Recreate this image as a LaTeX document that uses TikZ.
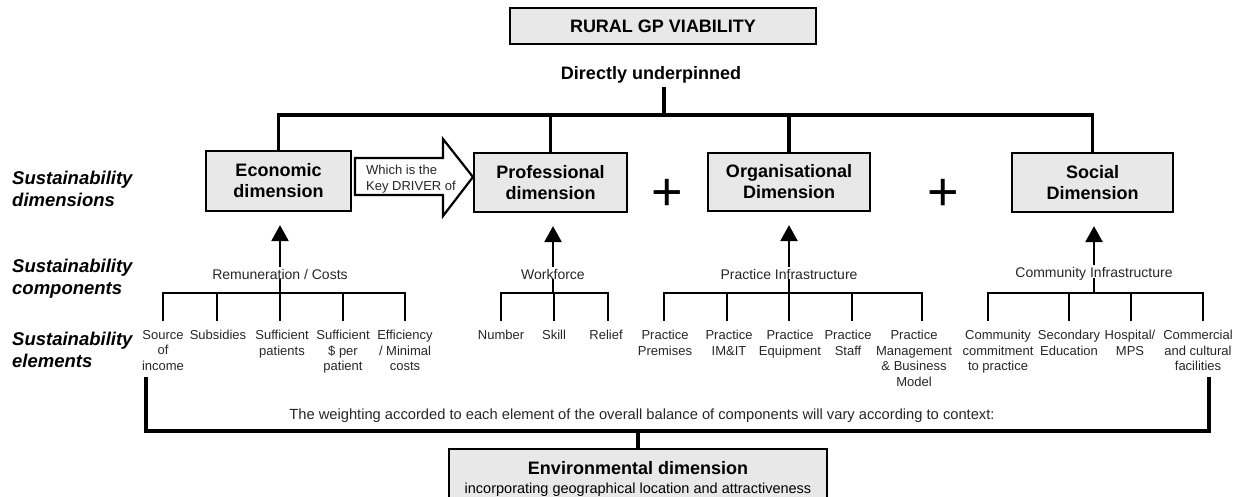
\documentclass[tikz,border=0pt]{standalone}
\usepackage{fontspec}
\setmainfont{Liberation Sans}
\usetikzlibrary{arrows.meta}
\usetikzlibrary{positioning}
\definecolor{boxgray}{HTML}{E8E8E8}
\definecolor{inkgray}{HTML}{262626}
\newcommand{\bigfont}{\fontsize{18}{21}\selectfont\bfseries}
\newcommand{\smallfont}{\fontsize{13}{15.5}\selectfont}
\newcommand{\compfont}{\fontsize{14}{16}\selectfont}
\tikzset{dimbox/.style={draw,line width=2.2pt,fill=boxgray,align=center,font=\bigfont,inner sep=0pt}}
\tikzset{tree/.style={line width=3.2pt}}
\tikzset{twig/.style={line width=2pt}}
\tikzset{comp/.style={font=\compfont,text=inkgray,inner sep=2pt}}
\tikzset{elem/.style={font=\smallfont,text=inkgray,align=center,anchor=north,inner sep=0pt}}
\tikzset{sidelabel/.style={font=\fontsize{18.5}{22}\selectfont\bfseries\itshape,align=left,anchor=west,inner sep=0pt}}
\tikzset{upto/.style={->,line width=2.4pt,shorten >=13pt}}

\begin{document}
\begin{tikzpicture}[x=1pt, y=-1pt, >={Triangle[width=17pt,length=16pt]}, line join=miter]
\useasboundingbox (0,0) rectangle (1246,497);

\node [dimbox, minimum width=306pt, minimum height=36pt] (title) at (663,26) {RURAL GP VIABILITY};
\node [font=\bigfont] (under) at (651,75) {Directly underpinned};
\coordinate (hub) at (664,115);

\node [dimbox, minimum width=145pt, minimum height=60pt] (econ) at (278.5,181) {Economic\\dimension};
\node [dimbox, minimum width=153pt, minimum height=59pt] (prof) at (550.5,182.5) {Professional\\dimension};
\node [dimbox, minimum width=162pt, minimum height=58pt] (org) at (789,182) {Organisational\\Dimension};
\node [dimbox, minimum width=161pt, minimum height=59pt] (soc) at (1092.5,182.5) {Social\\Dimension};

\draw [tree] (under.south -| hub) -- (hub);
\foreach \b in {econ,prof,org,soc}
\draw [tree] (hub) -| (\b.north);

\foreach \x [count=\i] in {667,943}
\node [font=\fontsize{54}{54}\selectfont, anchor=base] (plus-\i) at (\x,210) {+};

% Key driver arrow
\draw [line width=2.2pt, fill=white] (355,158) -- (443,158) -- (443,139) -- (473,177)
  -- (443,216) -- (443,195) -- (355,195) -- cycle;
\node [font=\smallfont, text=inkgray, align=left, anchor=west, inner sep=0pt] (driver) at (366,179) {Which is the\\Key DRIVER of};

\node [sidelabel] (lab-dim) at (12,189) {Sustainability\\dimensions};
\node [sidelabel] (lab-comp) at (12,278.5) {Sustainability\\components};
\node [sidelabel] (lab-elem) at (12,349.5) {Sustainability\\elements};

\node [comp] (remun) at (280,274) {Remuneration / Costs};
\node [comp] (work) at (553,274) {Workforce};
\node [comp] (pract) at (789,274) {Practice Infrastructure};
\node [comp] (commu) at (1094,274) {Community Infrastructure};

\foreach \c/\b in {remun/econ, work/prof, pract/org, commu/soc} {
\draw [upto] (\c.north) -- (\c.north |- \b.south);
\coordinate (\c-bar) at (\c.base |- 0,293);
\draw [twig] (\c.base) -- (\c-bar);
}

\foreach \x/\t [count=\i] in {163/{Source\\of\\income}, 218/Subsidies, 282/{Sufficient\\patients},
  343/{Sufficient\\\$ per\\patient}, 405/{Efficiency\\/ Minimal\\costs}}
\node [elem] (ec-\i) at (\x,330) {\t};
\foreach \x/\t [count=\i] in {501/Number, 554/Skill, 606/Relief}
\node [elem] (wf-\i) at (\x,330) {\t};
\foreach \x/\t [count=\i] in {665/{Practice\\Premises}, 729/{Practice\\IM\&IT}, 790/{Practice\\Equipment},
  848/{Practice\\Staff}, 914/{Practice\\Management\\\& Business\\Model}}
\node [elem] (pi-\i) at (\x,330) {\t};
\foreach \x/\t [count=\i] in {998/{Community\\commitment\\to practice}, 1069/{Secondary\\Education},
  1130/{Hospital/\\MPS}, 1198/{Commercial\\and cultural\\facilities}}
\node [elem] (cc-\i) at (\x,330) {\t};

% Element branches
\foreach \i/\s in {1/0,2/-1,3/-2,4/0,5/0}
\draw [twig, shorten >=9pt] (remun-bar) -| ([xshift=\s pt]ec-\i.north);
\foreach \i/\s in {1/0,2/0,3/2}
\draw [twig, shorten >=9pt] (work-bar) -| ([xshift=\s pt]wf-\i.north);
\foreach \i/\s in {1/-1,2/-2,3/-1,4/4,5/8}
\draw [twig, shorten >=9pt] (pract-bar) -| ([xshift=\s pt]pi-\i.north);
\foreach \i/\s in {1/-10,2/0,3/1,4/5}
\draw [twig, shorten >=9pt] (commu-bar) -| ([xshift=\s pt]cc-\i.north);

\node [comp, font=\fontsize{14.7}{17}\selectfont] (weight) at (642,416) {The weighting accorded to each element of the overall balance of components will vary according to context:};

\node [dimbox, minimum width=378pt, minimum height=60pt, anchor=north] (env) at (638,448)
  {Environmental dimension\\[-2pt]{\fontsize{14.5}{17}\selectfont\mdseries incorporating geographical location and attractiveness}};
\coordinate (envbar) at (638,431);
\draw [tree, shorten <=6pt] ([xshift=-17pt]ec-1.south) |- (envbar);
\draw [tree, shorten <=6pt] ([xshift=11pt]cc-4.south) |- (envbar);
\draw [tree] (envbar) -- (env.north);
\end{tikzpicture}
\end{document}
